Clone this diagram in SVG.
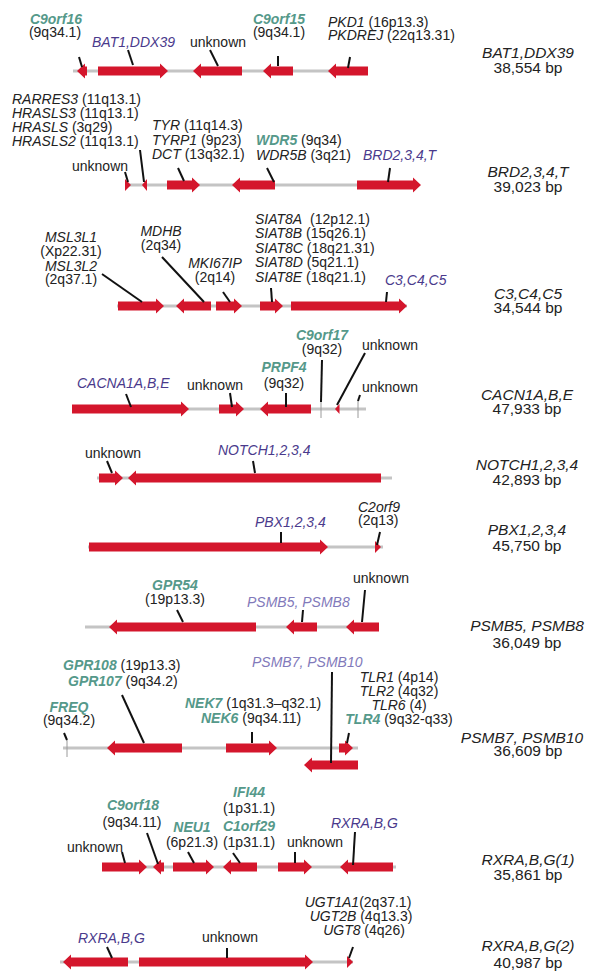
<svg xmlns="http://www.w3.org/2000/svg" width="601" height="971" viewBox="0 0 601 971">
<style>
text{font-family:"Liberation Sans",Arial,Helvetica,sans-serif;font-size:14px;fill:#222}
.i{font-style:italic}
.grn{font-style:italic;font-weight:bold;fill:#55998a}
.pur{font-style:italic;fill:#4a3a8c}
.lp{font-style:italic;fill:#8179ba}
.m{text-anchor:middle}
.rt{font-size:15.5px;text-anchor:middle}
.bb{stroke:#c4c4c4;stroke-width:3;fill:none}
.tick{stroke:#9a9a9a;stroke-width:1}
.ar{fill:#d4162c}
#connectors line{stroke:#111;stroke-width:2}
</style>
<rect width="601" height="971" fill="#ffffff"/>

<!-- Track 1 -->
<g id="track-bat1">
<line class="bb" x1="73" y1="71" x2="368" y2="71"/>
<text class="rt i" x="528" y="58">BAT1,DDX39</text>
<text class="rt" x="528" y="73">38,554 bp</text>
</g>
<g id="g-c9orf16"><path class="ar" d="M87,66.5 h-2 v-3 l-8,7.5 l8,7.5 v-3 h2 z"/><text class="grn m" x="56" y="24">C9orf16</text><text class="m" x="55" y="37">(9q34.1)</text></g>
<g id="g-bat1"><path class="ar" d="M98,66.5 h62 v-3 l8,7.5 l-8,7.5 v-3 h-62 z"/><text class="pur" x="92" y="47">BAT1,DDX39</text></g>
<g id="g-unk1"><path class="ar" d="M242,66.5 h-41 v-3 l-8,7.5 l8,7.5 v-3 h41 z"/><text x="190" y="47">unknown</text></g>
<g id="g-c9orf15"><path class="ar" d="M293,66.5 h-22 v-3 l-8,7.5 l8,7.5 v-3 h22 z"/><text class="grn m" x="279" y="24">C9orf15</text><text class="m" x="279" y="37">(9q34.1)</text></g>
<g id="g-pkd1"><path class="ar" d="M368,66.5 h-32 v-3 l-8,7.5 l8,7.5 v-3 h32 z"/><text x="328" y="27"><tspan class="i">PKD1</tspan> (16p13.3)</text><text x="328" y="40"><tspan class="i">PKDREJ</tspan> (22q13.31)</text></g>

<!-- Track 2 -->
<g id="track-brd">
<line class="bb" x1="125" y1="185" x2="418" y2="185"/>
<text class="rt i" x="528" y="177">BRD2,3,4,T</text>
<text class="rt" x="528" y="192">39,023 bp</text>
</g>
<g id="g-unk2"><path class="ar" d="M125,179 l6,6 l-6,6 z"/><text x="72" y="171">unknown</text></g>
<g id="g-rarres"><path class="ar" d="M147,179 l-5,6 l5,6 z"/>
<text x="12" y="104"><tspan class="i">RARRES3</tspan> (11q13.1)</text>
<text x="12" y="118"><tspan class="i">HRASLS3</tspan> (11q13.1)</text>
<text x="12" y="131.5"><tspan class="i">HRASLS</tspan> (3q29)</text>
<text x="12" y="145.5"><tspan class="i">HRASLS2</tspan> (11q13.1)</text></g>
<g id="g-tyr"><path class="ar" d="M167,180.5 h25 v-3 l8,7.5 l-8,7.5 v-3 h-25 z"/>
<text x="152" y="130"><tspan class="i">TYR</tspan> (11q14.3)</text>
<text x="152" y="145"><tspan class="i">TYRP1</tspan> (9p23)</text>
<text x="152" y="159"><tspan class="i">DCT</tspan> (13q32.1)</text></g>
<g id="g-wdr5"><path class="ar" d="M275,180.5 h-35 v-3 l-8,7.5 l8,7.5 v-3 h35 z"/>
<text x="256" y="145"><tspan class="grn">WDR5</tspan> (9q34)</text>
<text x="256" y="159.5"><tspan class="i">WDR5B</tspan> (3q21)</text></g>
<g id="g-brd"><path class="ar" d="M357,180.5 h56 v-3 l8,7.5 l-8,7.5 v-3 h-56 z"/><text class="pur" x="363" y="160">BRD2,3,4,T</text></g>

<!-- Track 3 -->
<g id="track-c3">
<line class="bb" x1="117" y1="306" x2="407" y2="306"/>
<text class="rt i" x="528" y="299">C3,C4,C5</text>
<text class="rt" x="528" y="313">34,544 bp</text>
</g>
<g id="g-msl3l"><path class="ar" d="M118,301.5 h38 v-3 l8,7.5 l-8,7.5 v-3 h-38 z"/>
<text class="i m" x="71" y="242">MSL3L1</text><text class="m" x="71" y="256">(Xp22.31)</text>
<text class="i m" x="71" y="271">MSL3L2</text><text class="m" x="71" y="284">(2q37.1)</text></g>
<g id="g-mdhb"><path class="ar" d="M211,301.5 h-27 v-3 l-8,7.5 l8,7.5 v-3 h27 z"/>
<text class="i m" x="161" y="235.5">MDHB</text><text class="m" x="161" y="250">(2q34)</text></g>
<g id="g-mki67ip"><path class="ar" d="M216,301.5 h18 v-3 l8,7.5 l-8,7.5 v-3 h-18 z"/>
<text class="i m" x="215" y="267.5">MKI67IP</text><text class="m" x="215" y="282">(2q14)</text></g>
<g id="g-siat8"><path class="ar" d="M260,301.5 h15 v-3 l8,7.5 l-8,7.5 v-3 h-15 z"/>
<text x="255" y="224" xml:space="preserve"><tspan class="i">SIAT8A</tspan>  (12p12.1)</text>
<text x="255" y="238"><tspan class="i">SIAT8B</tspan> (15q26.1)</text>
<text x="255" y="253"><tspan class="i">SIAT8C</tspan> (18q21.31)</text>
<text x="255" y="267"><tspan class="i">SIAT8D</tspan> (5q21.1)</text>
<text x="255" y="281.5"><tspan class="i">SIAT8E</tspan> (18q21.1)</text></g>
<g id="g-c3"><path class="ar" d="M291,301.5 h108 v-3 l8,7.5 l-8,7.5 v-3 h-108 z"/><text class="pur" x="385" y="285">C3,C4,C5</text></g>

<!-- Track 4 -->
<g id="track-cacn">
<line class="bb" x1="72" y1="409" x2="366" y2="409"/>
<line class="tick" x1="321" y1="400" x2="321" y2="418"/>
<line class="tick" x1="358" y1="400" x2="358" y2="418"/>
<text class="rt i" x="527" y="400">CACN1A,B,E</text>
<text class="rt" x="527" y="414">47,933 bp</text>
</g>
<g id="g-cacna1"><path class="ar" d="M72,404.5 h109 v-3 l8,7.5 l-8,7.5 v-3 h-109 z"/><text class="pur" x="77" y="388">CACNA1A,B,E</text></g>
<g id="g-unk4a"><path class="ar" d="M219,404.5 h17 v-3 l8,7.5 l-8,7.5 v-3 h-17 z"/><text x="187" y="390">unknown</text></g>
<g id="g-prpf4"><path class="ar" d="M311,404.5 h-43 v-3 l-8,7.5 l8,7.5 v-3 h43 z"/><text class="grn m" x="284" y="372">PRPF4</text><text class="m" x="284" y="388">(9q32)</text></g>
<g id="g-c9orf17"><text class="grn m" x="322" y="340">C9orf17</text><text class="m" x="322" y="354">(9q32)</text></g>
<g id="g-unk4b"><path class="ar" d="M339.5,404 l-4.5,5 l4.5,5 z"/><text x="362" y="350">unknown</text></g>
<g id="g-unk4c"><text x="362" y="392">unknown</text></g>

<!-- Track 5 -->
<g id="track-notch">
<line class="bb" x1="97" y1="478" x2="392" y2="478"/>
<text class="rt i" x="527" y="470">NOTCH1,2,3,4</text>
<text class="rt" x="527" y="485">42,893 bp</text>
</g>
<g id="g-unk5"><path class="ar" d="M99,473.5 h16 v-3 l8,7.5 l-8,7.5 v-3 h-16 z"/><text x="85" y="458">unknown</text></g>
<g id="g-notch"><path class="ar" d="M381,473.5 h-245 v-3 l-8,7.5 l8,7.5 v-3 h245 z"/><text class="pur" x="218" y="455">NOTCH1,2,3,4</text></g>

<!-- Track 6 -->
<g id="track-pbx">
<line class="bb" x1="88" y1="547" x2="383" y2="547"/>
<text class="rt i" x="527" y="535">PBX1,2,3,4</text>
<text class="rt" x="527" y="551">45,750 bp</text>
</g>
<g id="g-pbx"><path class="ar" d="M89,542.5 h231 v-3 l8,7.5 l-8,7.5 v-3 h-231 z"/><text class="pur" x="255" y="527">PBX1,2,3,4</text></g>
<g id="g-c2orf9"><path class="ar" d="M375,541 l6,6 l-6,6 z"/><text class="i" x="358" y="512">C2orf9</text><text x="358" y="525">(2q13)</text></g>

<!-- Track 7 -->
<g id="track-psmb5">
<line class="bb" x1="85" y1="627" x2="379" y2="627"/>
<text class="rt i" x="527" y="631">PSMB5, PSMB8</text>
<text class="rt" x="527" y="648">36,049 bp</text>
</g>
<g id="g-gpr54"><path class="ar" d="M256,622.5 h-139 v-3 l-8,7.5 l8,7.5 v-3 h139 z"/><text class="grn" x="152" y="590">GPR54</text><text x="145" y="604">(19p13.3)</text></g>
<g id="g-psmb5"><path class="ar" d="M317,622.5 h-23 v-3 l-8,7.5 l8,7.5 v-3 h23 z"/><text class="lp" x="247" y="606.5">PSMB5, PSMB8</text></g>
<g id="g-unk7"><path class="ar" d="M379,622.5 h-25 v-3 l-8,7.5 l8,7.5 v-3 h25 z"/><text x="353" y="583">unknown</text></g>

<!-- Track 8 -->
<g id="track-psmb7">
<line class="bb" x1="63" y1="748" x2="358" y2="748"/>
<line class="tick" x1="67" y1="740" x2="67" y2="757"/>
<text class="rt i" x="522" y="743">PSMB7, PSMB10</text>
<text class="rt" x="528" y="756">36,609 bp</text>
</g>
<g id="g-freq"><text class="grn m" x="69" y="711.5">FREQ</text><text class="m" x="69" y="725">(9q34.2)</text></g>
<g id="g-gpr108"><path class="ar" d="M182,743.5 h-67 v-3 l-8,7.5 l8,7.5 v-3 h67 z"/>
<text x="63" y="670"><tspan class="grn">GPR108</tspan> (19p13.3)</text>
<text x="68" y="686"><tspan class="grn">GPR107</tspan> (9q34.2)</text></g>
<g id="g-nek7"><path class="ar" d="M226,743.5 h43 v-3 l8,7.5 l-8,7.5 v-3 h-43 z"/>
<text x="185" y="708"><tspan class="grn">NEK7</tspan> (1q31.3–q32.1)</text>
<text x="201" y="723"><tspan class="grn">NEK6</tspan> (9q34.11)</text></g>
<g id="g-tlr"><path class="ar" d="M339,743.5 h6 v-3 l8,7.5 l-8,7.5 v-3 h-6 z"/>
<text class="m" x="399" y="681.5"><tspan class="i">TLR1</tspan> (4p14)</text>
<text class="m" x="399" y="695.5"><tspan class="i">TLR2</tspan> (4q32)</text>
<text class="m" x="399" y="710"><tspan class="i">TLR6</tspan> (4)</text>
<text class="m" x="399" y="724"><tspan class="grn">TLR4</tspan> (9q32-q33)</text></g>
<g id="g-psmb7"><path class="ar" d="M358,760.5 h-46 v-3 l-8,7.5 l8,7.5 v-3 h46 z"/><text class="lp" x="252" y="666.5">PSMB7, PSMB10</text></g>

<!-- Track 9 -->
<g id="track-rxra1">
<line class="bb" x1="102" y1="867" x2="396" y2="867"/>
<text class="rt i" x="528" y="865">RXRA,B,G(1)</text>
<text class="rt" x="528" y="880">35,861 bp</text>
</g>
<g id="g-unk9a"><path class="ar" d="M102,862.5 h37 v-3 l8,7.5 l-8,7.5 v-3 h-37 z"/><text x="67" y="851.5">unknown</text></g>
<g id="g-c9orf18"><path class="ar" d="M164,862.5 h-3 v-3 l-8,7.5 l8,7.5 v-3 h3 z"/><text class="grn m" x="133" y="810">C9orf18</text><text class="m" x="132" y="827">(9q34.11)</text></g>
<g id="g-neu1"><path class="ar" d="M173,862.5 h33 v-3 l8,7.5 l-8,7.5 v-3 h-33 z"/><text class="grn m" x="192" y="831.5">NEU1</text><text class="m" x="192" y="847">(6p21.3)</text></g>
<g id="g-c1orf29"><path class="ar" d="M257,862.5 h-26 v-3 l-8,7.5 l8,7.5 v-3 h26 z"/>
<text class="grn m" x="249" y="796.5">IFI44</text><text class="m" x="249" y="813">(1p31.1)</text>
<text class="grn m" x="249" y="830.5">C1orf29</text><text class="m" x="249" y="847">(1p31.1)</text></g>
<g id="g-unk9b"><path class="ar" d="M278,862.5 h26 v-3 l8,7.5 l-8,7.5 v-3 h-26 z"/><text x="287" y="847">unknown</text></g>
<g id="g-rxra1"><path class="ar" d="M393,862.5 h-45 v-3 l-8,7.5 l8,7.5 v-3 h45 z"/><text class="pur" x="331" y="828">RXRA,B,G</text></g>

<!-- Track 10 -->
<g id="track-rxra2">
<line class="bb" x1="60" y1="962" x2="353" y2="962"/>
<text class="rt i" x="528" y="951">RXRA,B,G(2)</text>
<text class="rt" x="528" y="968">40,987 bp</text>
</g>
<g id="g-rxra2"><path class="ar" d="M128,957.5 h-57 v-3 l-8,7.5 l8,7.5 v-3 h57 z"/><text class="pur" x="78" y="942.5">RXRA,B,G</text></g>
<g id="g-unk10"><path class="ar" d="M139,957.5 h166 v-3 l8,7.5 l-8,7.5 v-3 h-166 z"/><text x="202" y="941.5">unknown</text></g>
<g id="g-ugt"><path class="ar" d="M347,956 l6,6 l-6,6 z"/>
<text class="m" x="358" y="907"><tspan class="i">UGT1A1</tspan>(2q37.1)</text>
<text class="m" x="361" y="920.5"><tspan class="i">UGT2B</tspan> (4q13.3)</text>
<text class="m" x="364" y="935"><tspan class="i">UGT8</tspan> (4q26)</text></g>

<g id="connectors">
<line x1="79" y1="57" x2="82" y2="67"/>
<line x1="128" y1="50" x2="133" y2="65"/>
<line x1="210" y1="50" x2="218" y2="66"/>
<line x1="278" y1="56" x2="278" y2="66"/>
<line x1="350" y1="57" x2="348" y2="68"/>
<line x1="125" y1="172" x2="128" y2="182"/>
<line x1="140" y1="150" x2="144" y2="182"/>
<line x1="178" y1="168" x2="184" y2="181"/>
<line x1="267" y1="168" x2="274" y2="182"/>
<line x1="390" y1="168" x2="388" y2="182"/>
<line x1="102" y1="274" x2="142" y2="302"/>
<line x1="162" y1="257" x2="204" y2="302"/>
<line x1="223" y1="292" x2="230" y2="302"/>
<line x1="271" y1="288" x2="272" y2="302"/>
<line x1="387" y1="292" x2="386" y2="302"/>
<line x1="126" y1="394" x2="131" y2="407"/>
<line x1="230" y1="393" x2="232" y2="407"/>
<line x1="286" y1="393" x2="286" y2="407"/>
<line x1="322" y1="360" x2="321" y2="402"/>
<line x1="365" y1="353" x2="337" y2="405"/>
<line x1="360" y1="395" x2="358" y2="401"/>
<line x1="107" y1="461" x2="112" y2="473"/>
<line x1="253" y1="461" x2="255" y2="473"/>
<line x1="281" y1="532" x2="281" y2="543"/>
<line x1="380" y1="532" x2="377" y2="545"/>
<line x1="177" y1="610" x2="183" y2="622"/>
<line x1="303" y1="610" x2="302" y2="622"/>
<line x1="365" y1="590" x2="362" y2="622"/>
<line x1="64" y1="733" x2="67" y2="740"/>
<line x1="122" y1="695" x2="144" y2="743"/>
<line x1="252" y1="732" x2="252" y2="743"/>
<line x1="349" y1="733" x2="347" y2="743"/>
<line x1="332" y1="672" x2="331" y2="763"/>
<line x1="122" y1="852" x2="125" y2="863"/>
<line x1="147" y1="833" x2="158" y2="864"/>
<line x1="188" y1="852" x2="194" y2="863"/>
<line x1="233" y1="853" x2="240" y2="863"/>
<line x1="295" y1="852" x2="295" y2="863"/>
<line x1="355" y1="832" x2="353" y2="865"/>
<line x1="107" y1="947" x2="112" y2="958"/>
<line x1="227" y1="948" x2="227" y2="958"/>
<line x1="353" y1="947" x2="349" y2="958"/>
</g>
</svg>
